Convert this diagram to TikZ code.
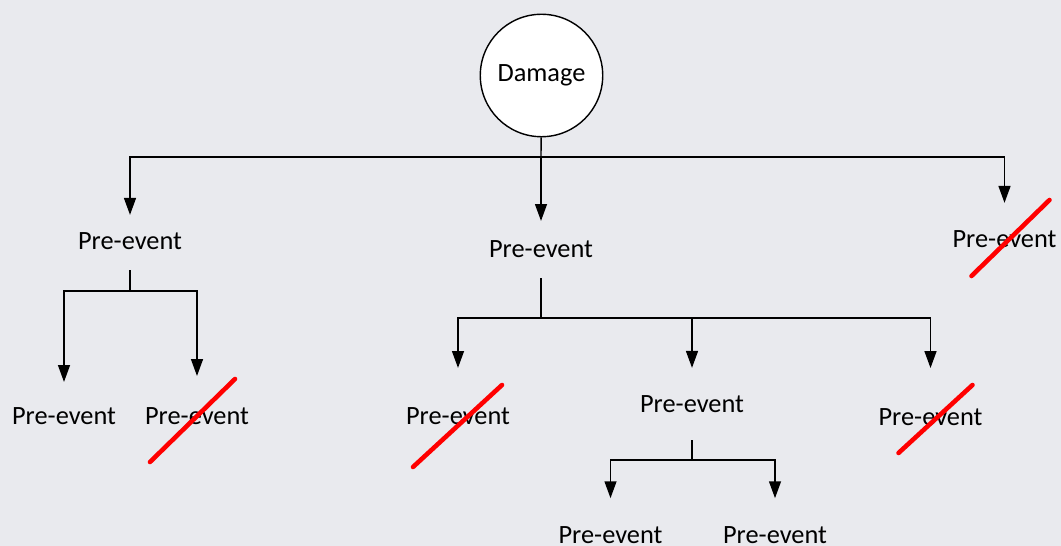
\documentclass[tikz,border=0pt]{standalone}
\usepackage{fontspec}
\setmainfont{Carlito}
\usepackage{tikz}
\usetikzlibrary{arrows.meta,positioning}
\definecolor{fond}{RGB}{233,234,238}
\tikzset{
  evt/.style={circle,draw,fill=white,line width=0.8pt,minimum size=69.7pt,
    inner sep=0pt,font=\fontsize{15}{18}\selectfont},
  lbl/.style={inner sep=0pt,anchor=base,text height=9.6pt,text depth=11.3pt,
    font=\fontsize{15}{18}\selectfont},
  ln/.style={line width=0.8pt},
  fl/.style={ln,-{Triangle[length=9.6pt,width=6.8pt]}},
  barre/.style={red,line width=2.6pt,line cap=round},
}

\begin{document}
\begin{tikzpicture}[x=0.02cm,y=-0.02cm]
  \fill[fond] (0,0) rectangle (1061,546);
  \useasboundingbox (0,0) rectangle (1061,546);
  % racine
  \node[evt] (dmg) at (541.5,75.5) {Damage};
  % premier niveau
  \node[lbl] (a) at (130,250) {Pre-event};
  \node[lbl] (b) at (541,258) {Pre-event};
  \node[lbl] (c) at (1004.5,248) {Pre-event};
  % sous a
  \node[lbl] (a1) at (64,425) {Pre-event};
  \node[lbl] (a2) at (197,425) {Pre-event};
  % sous b
  \node[lbl] (b1) at (458,425) {Pre-event};
  \node[lbl] (b2) at (692,413) {Pre-event};
  \node[lbl] (b3) at (930.5,426) {Pre-event};
  % sous b2
  \node[lbl] (b21) at (610.5,543.5) {Pre-event};
  \node[lbl] (b22) at (775,543.5) {Pre-event};
  % points de branchement
  \coordinate (j0) at (541,157);
  \coordinate (ja) at (130,291);
  \coordinate (jb) at (541,318);
  \coordinate (jb2) at (692,460);
  \draw[ln] (dmg) -- (j0);
  \draw[fl,shorten >=10.2pt] (j0) -| (a);
  \draw[fl,shorten >=11.3pt] (j0) -- (b);
  \draw[fl,shorten >=15.9pt] (j0) -| (c);
  \draw[ln] (a) -- (ja);
  \draw[fl,shorten >=14.7pt] (ja) -| (a1);
  \draw[fl,shorten >=18.1pt] (ja) -| (a2);
  \draw[ln] (b) -- (jb);
  \draw[fl,shorten >=22.7pt] (jb) -| (b1);
  \draw[fl,shorten >=15.9pt] (jb) -| (b2);
  \draw[fl,shorten >=23.2pt] (jb) -| (b3);
  \draw[ln,shorten <=4pt] (b2) -- (jb2);
  \draw[fl,shorten >=16pt] (jb2) -| (b21);
  \draw[fl,shorten >=16pt] (jb2) -| (b22);
  % barres rouges
  \draw[barre] ([shift={(-33,28)}]c.base) -- ([shift={(45,-48)}]c.base);
  \draw[barre] ([shift={(-47,37)}]a2.base) -- ([shift={(38,-46)}]a2.base);
  \draw[barre] ([shift={(-45,42)}]b1.base) -- ([shift={(44,-40)}]b1.base);
  \draw[barre] ([shift={(-32,27)}]b3.base) -- ([shift={(42,-41)}]b3.base);
\end{tikzpicture}
\end{document}
